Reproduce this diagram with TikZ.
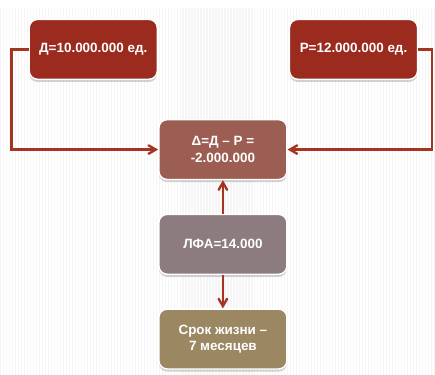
\documentclass[tikz,border=0pt]{standalone}
\usepackage{fontspec}
\setmainfont{Liberation Sans}
\usepackage{xcolor}
\usetikzlibrary{arrows, shadows}

\definecolor{bordo}{RGB}{155,43,30}
\definecolor{korich}{RGB}{156,94,82}
\definecolor{sery}{RGB}{140,123,127}
\definecolor{bezh}{RGB}{156,135,99}
\definecolor{liniya}{RGB}{165,52,32}

\begin{document}
\begin{tikzpicture}[
    x=0.03cm, y=-0.03cm,
    every node/.style={draw=white, line width=1.2pt, rounded corners=0.25cm,
        minimum width=3.85cm, minimum height=1.8cm, align=center,
        text=white, font=\fontsize{11.5}{14}\selectfont\bfseries,
        drop shadow={shadow xshift=0pt, shadow yshift=-0.08cm, opacity=0.35}}
]
\tikzset{
    bloco/.style={fill=bordo},
    raznica/.style={fill=korich},
    lfa/.style={fill=sery},
    srok/.style={fill=bezh},
    seta/.style={draw=liniya, line width=2pt, -angle 60}
}
% fon
\fill[white] (0,0) rectangle (435,376);
\foreach \i in {0,3,...,435} {
    \fill[black!4] (\i,8) rectangle ++(1.2,368);
}
\useasboundingbox (0,0) rectangle (435,376);

\node[bloco] (d) at (93.5,49.5) {Д=10.000.000 ед.};
\node[bloco] (r) at (354.5,49.5) {Р=12.000.000 ед.};
\node[raznica] (delta) at (223.5,150) {Δ=Д – Р =\\-2.000.000};
\node[lfa] (l) at (223.5,245) {ЛФА=14.000};
\node[srok] (s) at (223.5,340) {Срок жизни –\\7 месяцев};

\draw[seta] (d.west) -- ++(-17,0) |- (delta.west);
\draw[seta] (r.east) -- ++(14,0) |- (delta.east);
\draw[seta] (l.north) -- (delta.south);
\draw[seta] (l.south) -- (s.north);
\end{tikzpicture}
\end{document}
